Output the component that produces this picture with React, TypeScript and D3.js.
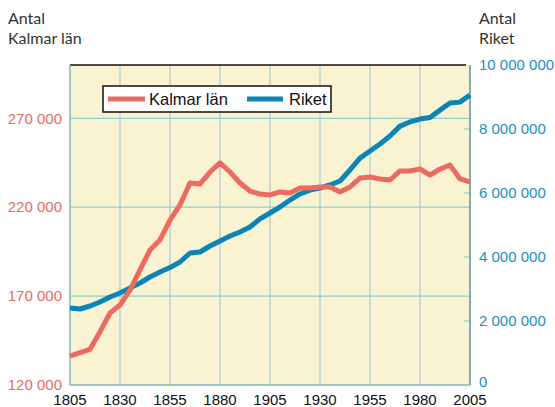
import React from 'react';
import * as d3 from 'd3';

// years every 5th year
const years = [
  1805, 1810, 1815, 1820, 1825, 1830, 1835, 1840, 1845, 1850,
  1855, 1860, 1865, 1870, 1875, 1880, 1885, 1890, 1895, 1900,
  1905, 1910, 1915, 1920, 1925, 1930, 1935, 1940, 1945, 1950,
  1955, 1960, 1965, 1970, 1975, 1980, 1985, 1990, 1995, 2000, 2005,
];

// Kalmar län population
const kalmar = [
  136300, 138200, 140100, 150000, 160500, 165000, 173400, 184700, 195900, 201600,
  212800, 221300, 233600, 233100, 239800, 244900, 239800, 233600, 229100, 227400,
  226900, 228600, 228000, 230800, 230800, 231400, 231400, 228600, 231400, 236400,
  237000, 235900, 235300, 240400, 240400, 241500, 238100, 241500, 243700, 235900, 234200,
];

// Riket population
const riket = [
  2406000, 2375000, 2469000, 2594000, 2750000, 2875000, 3031000, 3187000, 3375000, 3531000,
  3670000, 3844000, 4125000, 4156000, 4344000, 4500000, 4656000, 4781000, 4937000, 5190000,
  5375000, 5562000, 5780000, 5970000, 6090000, 6156000, 6250000, 6375000, 6720000, 7090000,
  7310000, 7530000, 7780000, 8090000, 8220000, 8310000, 8360000, 8590000, 8810000, 8840000, 9060000,
];

const xTicks = [1805, 1830, 1855, 1880, 1905, 1930, 1955, 1980, 2005];
const leftTicks = [120000, 170000, 220000, 270000];
const rightTicks = [0, 2000000, 4000000, 6000000, 8000000, 10000000];

const RED = '#ec6a60';
const BLUE = '#0a85b5';
const RED_TXT = '#ea6a62';
const BLUE_TXT = '#1b90c0';

const fmt = (v: number) => String(v).replace(/\B(?=(\d{3})+(?!\d))/g, ' ');

export default function App() {
  const W = 555, H = 407;
  const left = 70, right = 470, top = 65, bottom = 385;

  const x = d3.scaleLinear().domain([1805, 2005]).range([left, right]);
  const yL = d3.scaleLinear().domain([120000, 300000]).range([bottom, top]);
  const yR = d3.scaleLinear().domain([0, 10000000]).range([bottom, top]);

  const lineL = d3.line<number>().x((d, i) => x(years[i])).y(d => yL(d));
  const lineR = d3.line<number>().x((d, i) => x(years[i])).y(d => yR(d));

  const tickFont = '"Liberation Sans", Arial, sans-serif';
  const titleFont = 'Lato, "Open Sans", sans-serif';

  return (
    <svg width={W} height={H} style={{ position: 'absolute', left: 0, top: 0, display: 'block' }}>
      {/* titles */}
      <g fontFamily={titleFont} fontSize={16} fill="#333">
        <text x={8} y={24}>Antal</text>
        <text x={8} y={44}>Kalmar län</text>
        <text x={479} y={24}>Antal</text>
        <text x={479} y={44}>Riket</text>
      </g>

      {/* plot background */}
      <rect x={left} y={top} width={right - left} height={bottom - top} fill="#f9f3d1" />

      {/* vertical grid */}
      {xTicks.slice(1, -1).map(t => (
        <line key={'vx' + t} x1={x(t)} x2={x(t)} y1={top} y2={bottom} stroke="#aac8d2" strokeWidth={1.2} />
      ))}
      {/* horizontal grid (left axis) */}
      {leftTicks.slice(1).map(t => (
        <line key={'hy' + t} x1={left} x2={right} y1={yL(t)} y2={yL(t)} stroke="#8fd0cc" strokeWidth={1.2} />
      ))}
      {/* right axis ticks, inside */}
      {rightTicks.slice(1, -1).map(t => (
        <line key={'rt' + t} x1={right - 6} x2={right} y1={yR(t)} y2={yR(t)} stroke="#8fd0cc" strokeWidth={1.2} />
      ))}

      {/* frame */}
      <line x1={left} x2={right - 4} y1={top} y2={top} stroke="#111" strokeWidth={1.5} />
      <line x1={left} x2={left} y1={top} y2={bottom} stroke="#7fb7b9" strokeWidth={1.5} />
      <line x1={left} x2={right} y1={bottom} y2={bottom} stroke="#7fb7b9" strokeWidth={1.5} />
      <line x1={right} x2={right} y1={top} y2={bottom} stroke="#7faab0" strokeWidth={2} />

      {/* series */}
      <path d={lineR(riket) || ''} fill="none" stroke={BLUE} strokeWidth={5} strokeLinejoin="round" />
      <path d={lineL(kalmar) || ''} fill="none" stroke={RED} strokeWidth={5} strokeLinejoin="round" />

      {/* left axis labels */}
      <g fontFamily={tickFont} fontSize={15} fill={RED_TXT} textAnchor="end">
        {leftTicks.map(t => (
          <text key={'l' + t} x={62} y={yL(t)} dy="0.35em">{fmt(t)}</text>
        ))}
      </g>
      {/* right axis labels */}
      <g fontFamily={tickFont} fontSize={15} fill={BLUE_TXT} textAnchor="start">
        {rightTicks.map(t => (
          <text key={'r' + t} x={479} y={yR(t) - (t === 0 ? 3 : 0)} dy="0.35em">{fmt(t)}</text>
        ))}
      </g>
      {/* x labels */}
      <g fontFamily={tickFont} fontSize={15} fill="#111" textAnchor="middle">
        {xTicks.map(t => (
          <text key={'x' + t} x={x(t)} y={405}>{t}</text>
        ))}
      </g>

      {/* legend */}
      <g>
        <rect x={103} y={86} width={228} height={26} fill="#fff" stroke="#111" strokeWidth={1.5} />
        <line x1={108} x2={145} y1={99} y2={99} stroke={RED} strokeWidth={5} />
        <text x={149} y={105} fontFamily={tickFont} fontSize={16.5} fill="#111">Kalmar län</text>
        <line x1={247} x2={283} y1={99} y2={99} stroke={BLUE} strokeWidth={5} />
        <text x={289} y={105} fontFamily={tickFont} fontSize={16.5} fill="#111">Riket</text>
      </g>
    </svg>
  );
}
